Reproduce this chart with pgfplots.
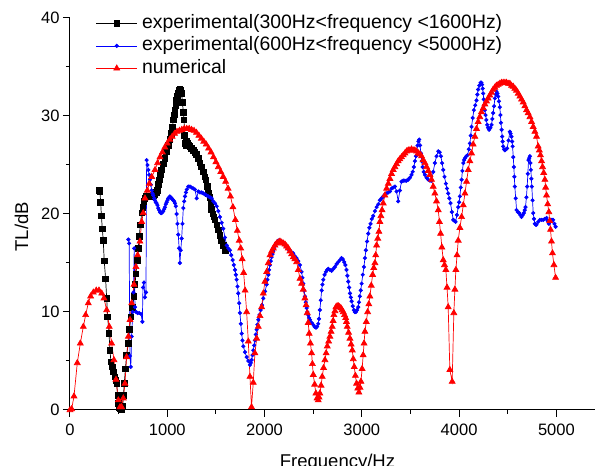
\documentclass[border=0pt]{standalone}
\usepackage{pgfplots}
\pgfplotsset{compat=1.18}
\usepackage{fontspec}
\setmainfont{Liberation Sans}
\begin{document}
\begin{tikzpicture}
\begin{axis}[
  name=ax,
  scale only axis, width=535pt, height=392pt,
  xmin=0, xmax=5500, ymin=0, ymax=40,
  axis x line*=bottom, axis y line*=left,
  axis line style={-, line width=1pt},
  xtick={0,1000,2000,3000,4000,5000},
  ytick={0,10,20,30,40},
  minor x tick num=1, minor y tick num=1,
  tick align=outside,
  major tick length=7pt, minor tick length=4pt,
  tick style={black, line width=1pt},
  /pgf/number format/assume math mode=true,
  /pgf/number format/1000 sep={},
  tick label style={font=\fontsize{16.5}{18}\selectfont},
  xticklabel style={yshift=-3pt},
  xlabel={Frequency/Hz},
  ylabel={TL/dB},
  xlabel style={font=\fontsize{18.5}{20}\selectfont, at={(axis description cs:0.5,0)}, anchor=north, inner sep=0pt, yshift=-44pt},
  ylabel style={font=\fontsize{18.5}{20}\selectfont, at={(axis description cs:-0.0907,0.4676)}, anchor=center, inner sep=0pt},
  legend cell align=left,
  legend style={draw=none, fill=none, at={(axis description cs:0,1)}, anchor=north west,
    xshift=25.7pt, yshift=4.8pt, inner sep=0pt, column sep=3.5pt, row sep=2.5pt,
    font=\fontsize{19.4}{22}\selectfont,
    nodes={inner sep=1pt, text height=14pt, text depth=4pt}},
  legend image code/.code={\draw[mark repeat=2, mark phase=2] plot coordinates {(0pt,0pt) (20.5pt,0pt) (41pt,0pt)};},
]
\addplot[black, line width=0.7pt, mark=square*, mark size=2.8pt, mark options={solid}] coordinates {
(300,22.4)(308,22.3)(315,21.2)(323,19.8)(332,18.5)(342,17.3)(352,15.2)(366,13.4)(377,11.4)(387,9.5)
(401,7.8)(411,6.1)(421,4.9)(435,4.4)(445,3.9)(462,3.4)(472,3.0)(480,2.7)(490,1.5)(497,0.7)
(505,0.3)(515,0.1)(528,0.0)(541,0.4)(550,1.5)(558,2.7)(570,4.2)(582,5.6)(600,6.8)(610,8.2)
(627,9.5)(644,10.5)(658,11.6)(668,12.8)(678,13.9)(692,15.3)(702,16.5)(712,17.7)(723,18.9)(737,20.1)
(747,20.7)(760,21.3)(770,21.6)(781,21.8)(795,21.8)(810,21.8)(825,21.8)(840,21.8)(856,21.9)(874,22.0)
(886,22.2)(898,22.4)(908,23.0)(918,23.5)(930,24.0)(942,24.5)(959,25.1)(976,25.7)(993,26.4)(1010,27.0)
(1028,27.6)(1045,28.2)(1054,28.9)(1062,29.6)(1070,30.1)(1079,30.6)(1088,31.1)(1096,31.6)(1105,32.0)(1113,32.3)
(1122,32.6)(1130,32.7)(1139,32.6)(1148,32.3)(1156,31.4)(1165,30.4)(1172,29.6)(1178,28.0)(1182,27.2)(1190,27.0)
(1199,27.4)(1208,27.2)(1216,27.0)(1233,26.9)(1250,26.7)(1268,26.5)(1285,26.3)(1302,26.1)(1319,25.7)(1336,25.2)
(1353,24.8)(1370,24.3)(1387,23.8)(1398,23.5)(1410,22.8)(1421,22.1)(1439,21.7)(1447,21.0)(1456,20.5)(1468,20.0)
(1480,19.7)(1490,19.4)(1508,18.9)(1524,18.4)(1542,17.8)(1559,17.3)(1576,16.8)(1593,16.3)(1603,16.3)
};
\addlegendentry{experimental(300Hz<frequency <1600Hz)}
\addplot[blue, line width=0.7pt, mark=*, mark size=1.7pt, mark options={solid}] coordinates {
(600,17.4)(608,17.0)(616,5.5)(625,4.4)(634,7.5)(644,10.0)(652,12.0)(660,16.5)(668,10.5)(680,10.0)
(695,9.9)(712,9.9)(730,9.8)(744,9.0)(750,12.5)(760,13.0)(770,11.5)(781,12.0)(788,25.5)(797,25.0)
(805,24.5)(814,24.0)(822,23.5)(831,23.0)(840,22.4)(848,22.1)(856,21.9)(865,21.6)(873,21.4)(882,21.2)
(890,21.1)(899,20.9)(907,20.6)(916,20.4)(925,20.2)(934,20.1)(942,20.1)(951,20.2)(959,20.3)(968,20.5)
(976,20.7)(985,21.0)(993,21.2)(1002,21.4)(1010,21.6)(1019,21.7)(1027,21.8)(1036,21.7)(1045,21.6)(1053,21.5)
(1062,21.4)(1070,21.3)(1079,21.1)(1088,20.8)(1096,20.0)(1105,19.0)(1113,17.9)(1122,16.5)(1130,15.0)(1139,16.3)
(1148,17.5)(1156,19.0)(1165,20.6)(1174,21.3)(1182,21.8)(1192,22.2)(1200,22.5)(1216,22.8)(1233,22.8)(1250,22.7)
(1268,22.6)(1285,22.5)(1302,21.6)(1319,22.3)(1336,22.2)(1353,22.2)(1370,22.1)(1388,22.0)(1405,21.9)(1422,21.8)
(1439,21.7)(1456,21.6)(1473,21.3)(1490,21.1)(1508,20.8)(1525,20.3)(1542,19.7)(1559,19.1)(1576,18.5)(1593,17.6)
(1611,16.8)(1627,16.5)(1644,16.3)(1658,15.8)(1672,15.3)(1684,14.8)(1696,14.3)(1705,13.8)(1713,13.3)(1722,12.6)
(1730,11.9)(1739,10.9)(1747,9.9)(1756,8.8)(1765,7.8)(1773,7.1)(1782,6.5)(1799,5.9)(1816,5.4)(1833,5.0)
(1850,4.6)(1859,4.8)(1867,5.1)(1876,5.6)(1884,6.1)(1893,6.6)(1901,7.1)(1910,7.7)(1919,8.2)(1927,8.7)
(1936,9.2)(1948,9.7)(1960,10.2)(1974,10.7)(1987,11.4)(2005,12.1)(2022,12.8)(2030,13.3)(2039,13.8)(2047,14.3)
(2056,14.8)(2064,15.2)(2073,15.6)(2081,15.9)(2090,16.2)(2099,16.5)(2107,16.8)(2124,17.1)(2141,17.3)(2158,17.3)
(2176,17.2)(2193,17.0)(2210,16.8)(2227,16.6)(2244,16.4)(2261,16.3)(2278,16.1)(2295,16.0)(2312,15.7)(2330,15.5)
(2347,15.2)(2364,14.8)(2381,14.1)(2390,13.5)(2398,12.9)(2407,12.2)(2415,11.6)(2424,11.0)(2433,10.4)(2441,10.0)
(2449,9.7)(2458,9.4)(2467,9.2)(2484,8.9)(2501,8.7)(2515,8.5)(2528,8.4)(2540,8.5)(2552,8.8)(2560,9.3)
(2569,10.2)(2578,11.2)(2587,12.2)(2595,12.8)(2604,13.3)(2617,13.8)(2631,14.1)(2643,14.3)(2655,14.4)(2672,14.3)
(2689,14.2)(2706,14.4)(2724,14.6)(2741,14.9)(2758,15.1)(2775,15.3)(2792,15.5)(2805,15.4)(2819,15.1)(2831,14.8)
(2843,14.3)(2852,13.7)(2861,13.1)(2870,12.5)(2878,11.9)(2887,11.5)(2895,11.1)(2907,10.6)(2919,10.2)(2929,10.0)
(2939,10.0)(2951,10.2)(2963,10.5)(2971,11.0)(2980,11.6)(2989,12.2)(2998,12.9)(3010,13.8)(3022,14.6)(3032,15.5)
(3042,16.3)(3054,17.2)(3066,18.0)(3078,18.6)(3090,19.0)(3103,19.5)(3117,19.8)(3135,20.3)(3152,20.7)(3169,21.0)
(3186,21.4)(3203,21.6)(3220,21.8)(3237,22.0)(3255,22.1)(3272,22.2)(3289,22.3)(3306,22.6)(3323,22.7)(3340,22.8)
(3357,22.3)(3374,21.3)(3391,22.4)(3408,23.3)(3426,23.4)(3443,23.4)(3460,23.4)(3477,23.5)(3494,23.7)(3511,24.0)
(3523,24.3)(3535,24.8)(3546,25.4)(3556,25.9)(3565,26.5)(3573,27.0)(3582,27.4)(3590,27.6)(3599,27.0)(3607,26.2)
(3616,25.4)(3625,24.8)(3637,24.3)(3649,24.0)(3666,23.7)(3683,23.5)(3700,23.4)(3717,23.4)(3734,24.3)(3751,25.2)
(3768,25.9)(3786,26.4)(3800,26.3)(3813,25.9)(3825,25.2)(3837,24.5)(3850,23.8)(3864,23.1)(3876,22.6)(3888,22.1)
(3900,21.6)(3912,21.1)(3926,20.2)(3940,19.4)(3952,19.3)(3964,19.2)(3978,19.9)(3991,20.7)(4000,21.2)(4008,21.8)
(4017,22.7)(4026,23.5)(4034,24.4)(4043,25.2)(4051,25.5)(4060,25.7)(4074,25.9)(4087,26.0)(4100,26.6)(4111,27.2)
(4120,28.0)(4128,28.9)(4140,29.8)(4152,30.6)(4166,31.1)(4179,31.6)(4188,32.2)(4196,32.7)(4208,33.1)(4221,33.4)
(4230,33.4)(4237,33.2)(4243,32.8)(4248,32.3)(4253,31.7)(4258,31.1)(4265,30.6)(4272,30.1)(4280,29.6)(4289,29.1)
(4299,28.8)(4309,28.6)(4322,28.8)(4334,29.1)(4342,29.7)(4350,30.3)(4359,31.0)(4368,31.8)(4377,32.2)(4385,32.5)
(4394,32.3)(4402,32.0)(4410,31.5)(4419,30.9)(4425,30.1)(4430,29.3)(4437,28.6)(4443,27.9)(4448,27.4)(4453,26.9)
(4462,26.6)(4471,26.5)(4482,26.6)(4494,26.7)(4508,27.5)(4522,28.4)(4530,28.2)(4539,27.9)(4545,27.4)(4550,26.9)
(4557,25.8)(4563,24.8)(4568,23.8)(4573,22.8)(4582,21.6)(4591,20.4)(4605,20.2)(4618,20.1)(4630,19.9)(4642,19.7)
(4654,19.9)(4666,20.1)(4675,20.4)(4683,20.7)(4692,21.7)(4700,22.8)(4707,24.1)(4714,25.5)(4721,25.7)(4728,25.9)
(4733,25.2)(4738,24.5)(4743,23.6)(4748,22.8)(4755,21.4)(4762,20.1)(4770,19.5)(4779,19.0)(4788,18.9)(4796,18.9)
(4813,19.2)(4830,19.4)(4848,19.4)(4865,19.4)(4882,19.5)(4899,19.6)(4911,19.3)(4923,19.0)(4933,19.2)(4944,19.4)
(4955,19.4)(4967,19.4)(4980,19.0)(4992,18.7)
};
\addlegendentry{experimental(600Hz<frequency <5000Hz)}
\addplot[red, line width=0.7pt, mark=triangle*, mark size=3.4pt, mark options={solid}] coordinates {
(0,0)(17,0.1)(41,1.4)(75,4.8)(106,6.8)(137,8.5)(161,9.7)(188,10.9)(212,11.6)(240,12.0)
(270,12.2)(298,12.2)(326,11.9)(349,11.4)(377,10.2)(404,8.5)(428,6.8)(452,5.1)(473,3.1)(497,1.0)
(514,0.3)(531,0.3)(548,1.2)(565,2.7)(582,5.4)(600,7.5)(617,9.2)(634,10.9)(658,12.8)(678,14.6)
(695,15.8)(719,17.2)(737,19.2)(753,20.1)(771,21.6)(795,22.4)(815,23.1)(840,23.8)(874,24.5)(900,25.2)
(925,25.8)(950,26.3)(975,26.8)(1000,27.2)(1025,27.6)(1050,27.9)(1075,28.2)(1100,28.4)(1125,28.5)(1150,28.6)
(1175,28.7)(1200,28.7)(1225,28.7)(1250,28.6)(1275,28.5)(1300,28.3)(1325,28.0)(1350,27.7)(1375,27.4)(1400,27.1)
(1425,26.7)(1450,26.3)(1475,25.8)(1500,25.3)(1525,24.8)(1550,24.3)(1575,23.8)(1600,23.3)(1625,22.6)(1650,21.8)
(1675,20.7)(1700,19.4)(1720,18.3)(1740,17.3)(1755,16.5)(1770,15.4)(1785,14.0)(1800,12.2)(1816,10.0)(1833,7.0)
(1850,3.4)(1866,0.3)(1884,2.8)(1901,5.8)(1919,7.3)(1936,8.5)(1953,9.6)(1970,10.5)(1987,11.9)(2004,13.1)
(2022,14.1)(2039,15.0)(2056,15.8)(2073,16.2)(2090,16.5)(2107,16.8)(2124,17.0)(2141,17.1)(2158,17.2)(2176,17.1)
(2193,17.0)(2210,16.9)(2227,16.7)(2244,16.5)(2261,16.2)(2278,15.9)(2295,15.6)(2312,15.4)(2330,15.1)(2347,14.3)
(2364,13.4)(2381,12.9)(2398,12.3)(2415,11.4)(2427,10.7)(2439,9.9)(2449,8.9)(2459,7.8)(2472,6.8)(2484,5.8)
(2492,4.7)(2501,3.6)(2515,2.6)(2528,1.7)(2540,1.2)(2552,1.0)(2560,1.3)(2569,1.7)(2581,2.5)(2593,3.4)
(2607,4.3)(2621,5.1)(2633,5.8)(2645,6.5)(2659,7.0)(2672,7.5)(2684,8.0)(2696,8.5)(2705,9.1)(2713,9.7)
(2724,10.1)(2734,10.5)(2746,10.6)(2758,10.6)(2772,10.5)(2785,10.4)(2797,10.2)(2809,10.0)(2822,9.7)(2834,9.4)
(2842,9.0)(2850,8.5)(2864,7.9)(2878,7.3)(2890,6.7)(2902,6.1)(2912,5.2)(2922,4.4)(2934,3.5)(2946,2.7)
(2958,2.2)(2970,1.8)(2981,2.3)(2991,2.9)(3003,4.2)(3014,5.6)(3023,6.8)(3032,8.0)(3046,9.0)(3060,10.0)
(3072,10.8)(3083,11.6)(3097,12.7)(3111,13.8)(3123,14.5)(3135,15.0)(3143,15.8)(3152,16.8)(3164,17.5)(3176,18.2)
(3186,19.2)(3196,19.8)(3208,20.4)(3220,21.1)(3237,21.9)(3255,22.6)(3272,23.1)(3289,23.6)(3306,24.1)(3323,24.5)
(3340,24.8)(3357,25.1)(3374,25.4)(3391,25.6)(3408,25.8)(3426,26.0)(3443,26.2)(3460,26.4)(3477,26.5)(3494,26.5)
(3511,26.6)(3528,26.5)(3545,26.5)(3563,26.4)(3580,26.2)(3597,26.1)(3614,25.9)(3631,25.5)(3649,25.2)(3666,24.8)
(3683,24.4)(3700,24.0)(3717,23.5)(3734,22.8)(3751,22.1)(3768,21.3)(3786,20.4)(3798,19.2)(3810,18.0)(3823,16.6)
(3837,15.3)(3850,14.8)(3864,14.3)(3876,12.5)(3888,10.5)(3905,4.1)(3929,2.9)(3946,9.9)(3957,12.3)(3967,14.3)
(3979,15.8)(3991,17.3)(4008,18.6)(4026,19.7)(4043,20.9)(4060,22.1)(4077,23.3)(4094,24.5)(4111,25.4)(4128,26.2)
(4145,27.1)(4162,27.9)(4179,28.7)(4196,29.4)(4213,29.9)(4230,30.4)(4248,30.8)(4265,31.2)(4282,31.5)(4299,31.8)
(4316,32.1)(4333,32.4)(4350,32.7)(4367,32.9)(4384,33.1)(4402,33.2)(4419,33.3)(4436,33.4)(4453,33.4)(4471,33.4)
(4488,33.4)(4505,33.3)(4522,33.3)(4539,33.1)(4556,33.0)(4573,32.8)(4590,32.6)(4608,32.3)(4625,32.0)(4642,31.7)
(4659,31.4)(4676,31.0)(4693,30.6)(4710,30.3)(4728,29.9)(4745,29.4)(4762,28.9)(4779,28.4)(4796,27.9)(4813,26.9)
(4825,26.5)(4837,26.0)(4848,25.4)(4858,24.8)(4870,24.2)(4882,23.5)(4890,22.7)(4899,21.9)(4911,21.0)(4923,20.2)
(4932,19.3)(4940,18.4)(4950,17.2)(4960,16.0)(4975,14.8)(4992,13.5)
};
\addlegendentry{numerical}
\end{axis}
\pgfresetboundingbox
\path[use as bounding box] ([shift={(-70pt,-56pt)}]ax.south west) rectangle ([shift={(525pt,410pt)}]ax.south west);
\end{tikzpicture}
\end{document}
